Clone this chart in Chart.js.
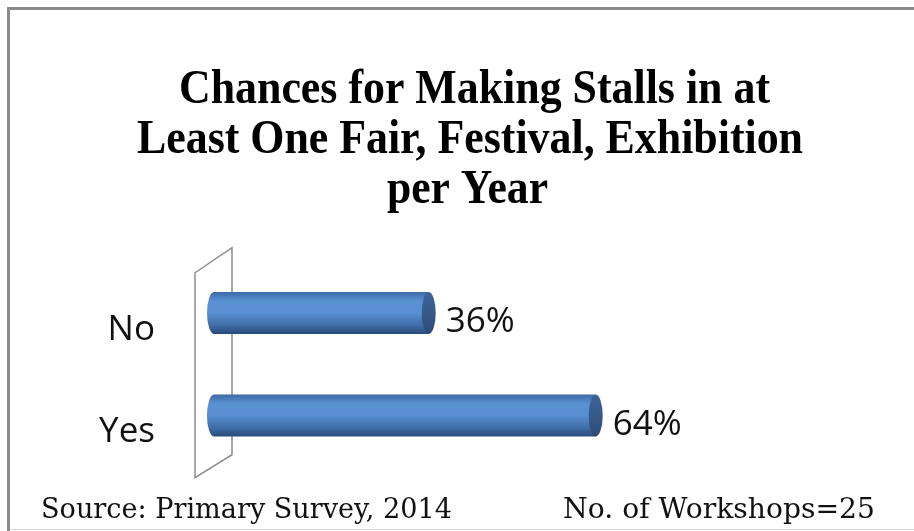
<!DOCTYPE html>
<html>
<head>
<meta charset="utf-8">
<script src="https://cdn.jsdelivr.net/npm/chart.js@4.4.0/dist/chart.umd.min.js"></script>
<style>
html, body { margin: 0; padding: 0; background: #fff; }
canvas { display: block; }
</style>
</head>
<body>
<canvas id="chart" width="914" height="531"></canvas>
<script>
// values
const categories = ['No', 'Yes'];
const shares = [36, 64];
const titleLines = ['Chances for Making Stalls in at', 'Least One Fair, Festival, Exhibition', 'per Year'];
const sourceNote = 'Source: Primary Survey, 2014';
const sampleNote = 'No. of Workshops=25';

// draw text squeezed/stretched to a given width (the original fonts are condensed)
function fitText(ctx, text, left, baseline, width, font) {
    ctx.font = font;
    const w = ctx.measureText(text).width;
    ctx.save();
    ctx.translate(left, baseline);
    ctx.scale(width / w, 1);
    ctx.textAlign = 'left';
    ctx.textBaseline = 'alphabetic';
    ctx.fillText(text, 0, 0);
    ctx.restore();
}

const framePlugin = {
    id: 'frame',
    beforeDraw(chart) {
        const ctx = chart.ctx;
        ctx.save();
        ctx.fillStyle = '#fff';
        ctx.fillRect(0, 0, chart.width, chart.height);
        ctx.strokeStyle = '#8a8a8a';
        ctx.lineWidth = 3;
        ctx.beginPath();
        ctx.moveTo(8.5, chart.height);
        ctx.lineTo(8.5, 8.5);
        ctx.lineTo(chart.width, 8.5);
        ctx.stroke();
        ctx.strokeStyle = '#d4d4d4';
        ctx.lineWidth = 1;
        ctx.beginPath();
        ctx.moveTo(10, 529.5);
        ctx.lineTo(chart.width, 529.5);
        ctx.stroke();

        // title + footnotes
        ctx.fillStyle = '#000';
        const titleFont = 'bold 48px "Liberation Serif"';
        fitText(ctx, titleLines[0], 179, 103, 591, titleFont);
        fitText(ctx, titleLines[1], 137, 153, 666, titleFont);
        fitText(ctx, titleLines[2], 387, 203, 161, titleFont);
        ctx.fillStyle = '#111';
        const noteFont = '27px "DejaVu Serif"';
        fitText(ctx, sourceNote, 41, 518, 411, noteFont);
        fitText(ctx, sampleNote, 563, 518, 312, noteFont);
        ctx.restore();
    }
};

// the 3-D "wall" behind the category axis
const wallPlugin = {
    id: 'wall',
    beforeDatasetsDraw(chart) {
        const { ctx, chartArea } = chart;
        const l = chartArea.left, t = chartArea.top, b = chartArea.bottom;
        ctx.save();
        ctx.beginPath();
        ctx.moveTo(l - 19, t + 11);
        ctx.lineTo(l + 18, t - 14);
        ctx.lineTo(l + 18, b - 12);
        ctx.lineTo(l - 19, b + 11);
        ctx.closePath();
        ctx.fillStyle = '#fff';
        ctx.fill();
        ctx.strokeStyle = '#8c8c8c';
        ctx.lineWidth = 1.5;
        ctx.stroke();
        ctx.restore();
    }
};

// cylinders + value labels
const cylinderPlugin = {
    id: 'cylinders',
    afterDatasetsDraw(chart) {
        const ctx = chart.ctx;
        const meta = chart.getDatasetMeta(0);
        meta.data.forEach((bar, i) => {
            const x0 = bar.base, x1 = bar.x, yc = bar.y;
            const r = bar.height / 2, rx = 7;
            ctx.save();
            const g = ctx.createLinearGradient(0, yc - r, 0, yc + r);
            g.addColorStop(0, '#3c6aa6');
            g.addColorStop(0.22, '#5a91d3');
            g.addColorStop(0.5, '#5890d2');
            g.addColorStop(0.8, '#3f6ca7');
            g.addColorStop(1, '#2a4a78');
            ctx.beginPath();
            ctx.moveTo(x0, yc - r);
            ctx.lineTo(x1, yc - r);
            ctx.lineTo(x1, yc + r);
            ctx.lineTo(x0, yc + r);
            ctx.ellipse(x0, yc, rx, r, 0, Math.PI / 2, Math.PI * 1.5);
            ctx.closePath();
            ctx.fillStyle = g;
            ctx.fill();

            const cg = ctx.createLinearGradient(0, yc - r, 0, yc + r);
            cg.addColorStop(0, '#3d6498');
            cg.addColorStop(0.5, '#38598a');
            cg.addColorStop(1, '#2c4a74');
            ctx.beginPath();
            ctx.ellipse(x1, yc, rx, r, 0, 0, Math.PI * 2);
            ctx.fillStyle = cg;
            ctx.fill();

            ctx.fillStyle = '#111';
            ctx.font = '35px "Open Sans"';
            ctx.textAlign = 'left';
            ctx.textBaseline = 'alphabetic';
            ctx.fillText(shares[i] + '%', x1 + 17, yc + 19);
            ctx.restore();
        });
    }
};

function drawChart() {
    const ctx = document.getElementById('chart').getContext('2d');
    new Chart(ctx, {
        type: 'bar',
        data: {
            labels: categories,
            datasets: [{
                data: shares,
                backgroundColor: 'rgba(0,0,0,0)',
                borderWidth: 0,
                barThickness: 42
            }]
        },
        options: {
            indexAxis: 'y',
            responsive: false,
            animation: false,
            devicePixelRatio: 1,
            layout: {
                padding: { top: 261.75, bottom: 64.25, left: 0, right: 103.6 }
            },
            plugins: {
                legend: { display: false },
                tooltip: { enabled: false },
                title: { display: false }
            },
            scales: {
                x: { min: 0, max: 100, display: false },
                y: {
                    grid: { display: false, drawTicks: false },
                    border: { display: false },
                    ticks: {
                        color: '#111',
                        // small lineHeight keeps the wide tick padding from eating vertical room
                        font: { family: 'Open Sans', size: 35, lineHeight: 0.2 },
                        padding: 59,
                        labelOffset: 17
                    },
                    afterFit(scale) { scale.width = 214; }
                }
            }
        },
        plugins: [framePlugin, wallPlugin, cylinderPlugin]
    });
}

Promise.all([
    document.fonts.load('35px "Open Sans"'),
    document.fonts.load('bold 48px "Liberation Serif"'),
    document.fonts.load('27px "DejaVu Serif"')
]).then(drawChart, drawChart);
</script>
</body>
</html>
